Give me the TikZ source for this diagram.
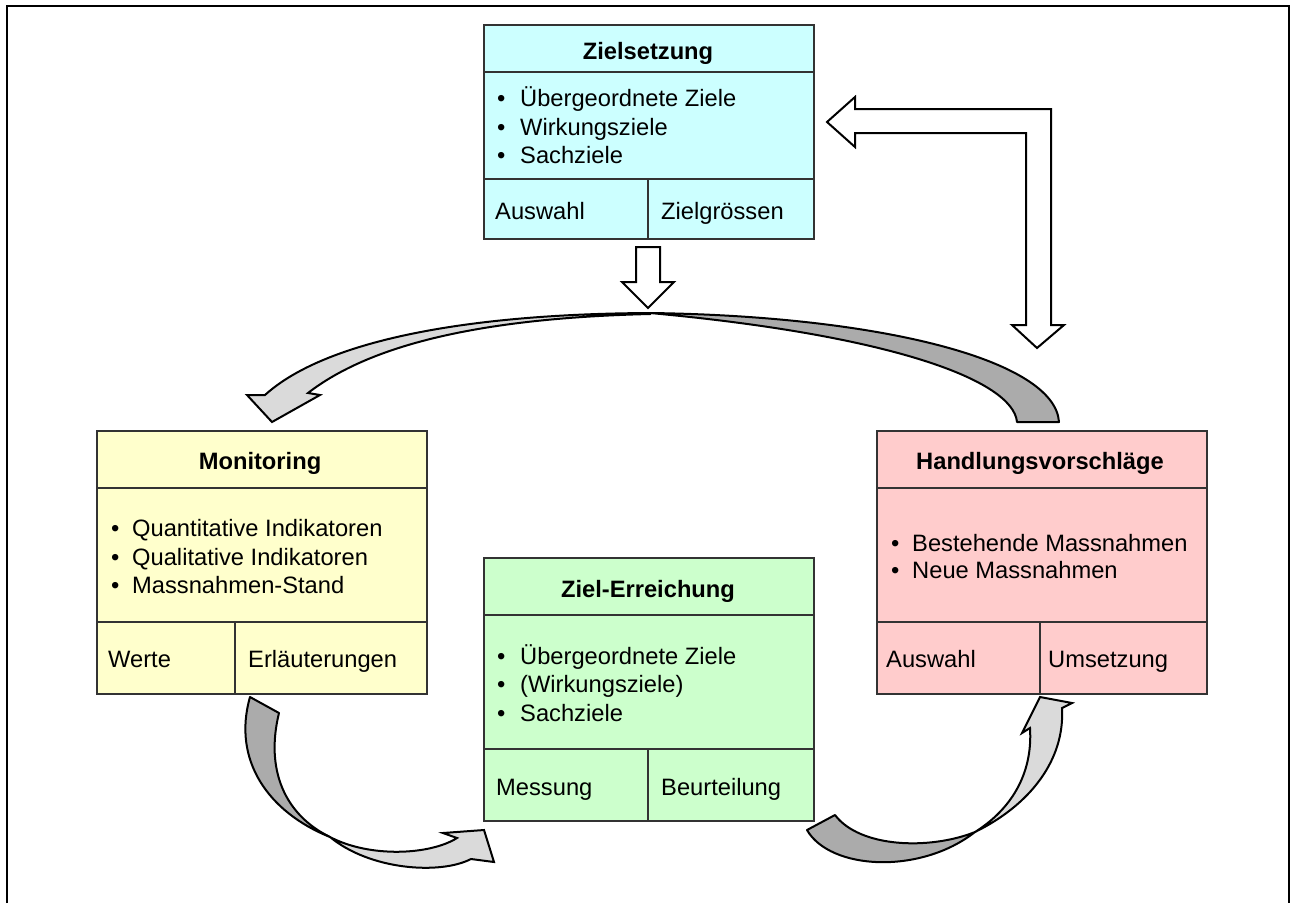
\documentclass[tikz,border=0pt]{standalone}
\usepackage{fontspec}
\setmainfont{Liberation Sans}
\definecolor{cyanbox}{HTML}{CCFFFF}
\definecolor{yellowbox}{HTML}{FFFFCC}
\definecolor{greenbox}{HTML}{CCFFCC}
\definecolor{redbox}{HTML}{FFCCCC}
\definecolor{boxline}{HTML}{333333}
\definecolor{banddark}{HTML}{ABABAB}
\definecolor{bandlight}{HTML}{DADADA}
\begin{document}
\begin{tikzpicture}[x=1pt,y=-1pt,
  panel/.style={draw=boxline, line width=1.6pt, anchor=north west, inner sep=0pt, minimum width=330pt},
  divider/.style={draw=boxline, line width=1.6pt},
  lbl/.style={anchor=base west, inner sep=0pt, font=\fontsize{23.7}{28}\selectfont},
  bul/.style={anchor=base west, inner sep=0pt, font=\fontsize{23.7}{28}\selectfont},
  ttl/.style={anchor=base, inner sep=0pt, font=\fontsize{23.7}{28}\selectfont\bfseries},
  blockarrow/.style={draw=black, line width=2pt, line join=miter, fill=white},
  darkband/.style={draw=black, line width=2pt, line join=round, fill=banddark},
  lightband/.style={draw=black, line width=2pt, line join=miter, fill=bandlight}]
\useasboundingbox (0,0) rectangle (1290,903);
% frame
\draw[line width=2.4pt, black] (7,903) -- (7,6) -- (1289,6) -- (1289,903);

% ---------- Zielsetzung ----------
\node[panel, fill=cyanbox, minimum height=214pt] (zs) at (483,24) {};
\draw[divider] (483,72) -- (813,72);
\draw[divider] (483,179) -- (813,179);
\draw[divider] (648,179) -- (648,238);
\node[ttl] (zsT) at (648,59) {Zielsetzung};
\node[bul] (zsB1) at (497,106) {•};
\node[lbl] (zs1) at (520,106) {Übergeordnete Ziele};
\node[bul] (zsB2) at (497,135) {•};
\node[lbl] (zs2) at (520,135) {Wirkungsziele};
\node[bul] (zsB3) at (497,163) {•};
\node[lbl] (zs3) at (520,163) {Sachziele};
\node[lbl] (zsL) at (495,219) {Auswahl};
\node[lbl] (zsR) at (661,219) {Zielgrössen};

% ---------- Monitoring ----------
\node[panel, fill=yellowbox, minimum height=263pt] (mo) at (96,430) {};
\draw[divider] (96,488) -- (426,488);
\draw[divider] (96,622) -- (426,622);
\draw[divider] (235,622) -- (235,693);
\node[ttl] (moT) at (260,469) {Monitoring};
\node[bul] (moB1) at (111,536) {•};
\node[lbl] (mo1) at (132,536) {Quantitative Indikatoren};
\node[bul] (moB2) at (111,565) {•};
\node[lbl] (mo2) at (132,565) {Qualitative Indikatoren};
\node[bul] (moB3) at (111,593) {•};
\node[lbl] (mo3) at (132,593) {Massnahmen-Stand};
\node[lbl] (moL) at (108,667) {Werte};
\node[lbl] (moR) at (248,667) {Erläuterungen};

% ---------- Ziel-Erreichung ----------
\node[panel, fill=greenbox, minimum height=263pt] (ze) at (483,557) {};
\draw[divider] (483,615) -- (813,615);
\draw[divider] (483,749) -- (813,749);
\draw[divider] (648,749) -- (648,820);
\node[ttl] (zeT) at (648,597) {Ziel-Erreichung};
\node[bul] (zeB1) at (497,664) {•};
\node[lbl] (ze1) at (520,664) {Übergeordnete Ziele};
\node[bul] (zeB2) at (497,692) {•};
\node[lbl] (ze2) at (520,692) {(Wirkungsziele)};
\node[bul] (zeB3) at (497,721) {•};
\node[lbl] (ze3) at (520,721) {Sachziele};
\node[lbl] (zeL) at (496,795) {Messung};
\node[lbl] (zeR) at (661,795) {Beurteilung};

% ---------- Handlungsvorschlaege ----------
\node[panel, fill=redbox, minimum height=263pt] (hv) at (876,430) {};
\draw[divider] (876,488) -- (1206,488);
\draw[divider] (876,622) -- (1206,622);
\draw[divider] (1040,622) -- (1040,693);
\node[ttl] (hvT) at (1040,469) {Handlungsvorschläge};
\node[bul] (hvB1) at (891,551) {•};
\node[lbl] (hv1) at (912,551) {Bestehende Massnahmen};
\node[bul] (hvB2) at (891,578) {•};
\node[lbl] (hv2) at (912,578) {Neue Massnahmen};
\node[lbl] (hvL) at (886,667) {Auswahl};
\node[lbl] (hvR) at (1048,667) {Umsetzung};

% ---------- block arrows ----------
\draw[blockarrow] (636,247) -- (660,247) -- (660,282) -- (674,282) -- (648,308)
  -- (622,282) -- (636,282) -- cycle;
\draw[blockarrow] (827,122) -- (855,97) -- (855,109) -- (1051,109) -- (1051,325)
  -- (1064,325) -- (1037,348) -- (1012,325) -- (1026,325) -- (1026,133)
  -- (855,133) -- (855,147) -- cycle;

% ---------- curved ribbon arrows ----------
% top: Handlungsvorschlaege -> Monitoring
\draw[darkband] (1059,422) .. controls (1055,360) and (880,316) .. (650,313)
  .. controls (890,335) and (1013,380) .. (1017,422) -- cycle;
\draw[lightband] (650,313) .. controls (450,314) and (320,345) .. (265,395)
  -- (247,395) -- (272,422) -- (320,395) -- (308,393)
  .. controls (370,345) and (480,318) .. (650,314) -- cycle;
% bottom left: Monitoring -> Ziel-Erreichung
\draw[darkband] (250,697) .. controls (232,760) and (268,812) .. (330,837)
  .. controls (285,815) and (265,770) .. (279,713) -- cycle;
\draw[lightband] (330,837) .. controls (370,858) and (430,855) .. (457,838)
  -- (443,833) -- (484,830) -- (494,862) -- (471,859)
  .. controls (440,875) and (370,870) .. (330,837) -- cycle;
% bottom right: Ziel-Erreichung -> Handlungsvorschlaege
\draw[darkband] (807,830) .. controls (830,870) and (920,875) .. (975,832)
  .. controls (930,850) and (860,848) .. (835,815) -- cycle;
\draw[lightband] (975,832) .. controls (1030,805) and (1065,760) .. (1062,708)
  -- (1072,703) -- (1040,697) -- (1022,733) -- (1030,728)
  .. controls (1033,775) and (1010,810) .. (975,832) -- cycle;
\end{tikzpicture}
\end{document}
